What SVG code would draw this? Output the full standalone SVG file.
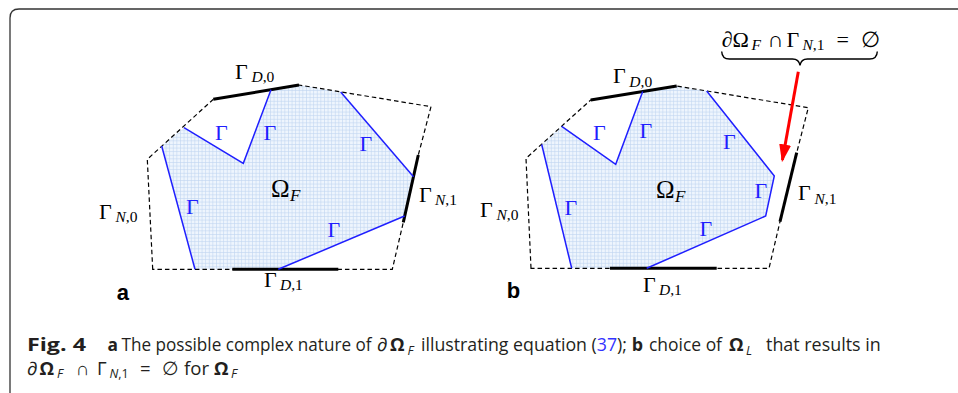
<svg xmlns="http://www.w3.org/2000/svg" width="958" height="393" viewBox="0 0 958 393">
<style>
.dash{fill:none;stroke:#000;stroke-width:1.2;stroke-dasharray:4.5,3}
.solid{fill:none;stroke:#000;stroke-width:3;stroke-linecap:butt}
.blue{fill:none;stroke:#1f1fff;stroke-width:1.5;stroke-linejoin:miter}
.fill{fill:url(#grid);stroke:none}
.m{font-family:"Liberation Serif","DejaVu Serif",serif;font-size:22px;fill:#000}
.mb{font-family:"Liberation Serif","DejaVu Serif",serif;font-size:22px;fill:#1f1fff}
.om{font-family:"Liberation Serif","DejaVu Serif",serif;font-size:25px;fill:#000}
.sub{font-size:15.5px}
.it{font-style:italic}
.pl{font-family:"Liberation Sans",Arial,sans-serif;font-weight:bold;font-size:22px;fill:#000}
.cap{font-family:"Open Sans","Noto Sans",sans-serif;font-size:18.5px;fill:#231f20}
.capb{font-weight:bold}
.cs{font-size:12.5px;font-style:italic;font-weight:normal}
</style>
<defs>
<pattern id="grid" patternUnits="userSpaceOnUse" width="3.6" height="3.6">
<rect width="3.6" height="3.6" fill="#eef5fd"/>
<path d="M0,0.3H3.6M0.3,0V3.6" stroke="#bfd5f0" stroke-width="0.7"/>
</pattern>
<marker id="ah" markerWidth="6" markerHeight="4" refX="5.2" refY="2" orient="auto" markerUnits="strokeWidth">
<path d="M0,0 L6,2 L0,4 Z" fill="#ff0000"/>
</marker>
</defs>
<rect width="958" height="393" fill="#fff"/>
<path d="M10,393 L10,18 Q10,9 19,9 L958,9" fill="none" stroke="#333" stroke-width="1.3"/>

<g id="panel-a">
<polygon class="fill" points="161.7,146 195,269.3 278.3,269.3 404.6,216 413.5,176.7 340.7,92 299,85 271,89.8 243.3,163.3 184,127.7"/>
<g id="connectors-a">
<polygon class="dash" points="152.7,269.3 147.3,159.3 213.3,99.3 299,85 431,106.7 418.3,155 403.3,222.3 392.3,269.3"/>
<line class="solid" x1="213.3" y1="99.3" x2="299" y2="85"/>
<line class="solid" x1="418.3" y1="155" x2="403.3" y2="222.3"/>
<line class="solid" x1="232.3" y1="269.3" x2="338.3" y2="269.3"/>
<polyline class="blue" points="161.7,146 195,269.3"/>
<polyline class="blue" points="184,127.7 243.3,163.3 271,89.8"/>
<polyline class="blue" points="340.7,92 413.5,176.7"/>
<polyline class="blue" points="404.6,216 278.3,269.3"/>
</g>
<g id="labels-a">
<text class="m" x="235" y="78.5">Γ<tspan class="sub it" x="251.5" dy="3.5">D</tspan><tspan class="sub">,0</tspan></text>
<text class="m" x="99" y="218.5">Γ<tspan class="sub it" x="115.5" dy="3.5">N</tspan><tspan class="sub">,0</tspan></text>
<text class="m" x="419" y="201.7">Γ<tspan class="sub it" x="435" dy="3.5">N</tspan><tspan class="sub">,1</tspan></text>
<text class="m" x="264" y="286.7">Γ<tspan class="sub it" x="280" dy="3.5">D</tspan><tspan class="sub">,1</tspan></text>
<text class="om" x="271" y="196.5">Ω<tspan class="it" font-size="17" x="290" dy="4">F</tspan></text>
<text class="mb" x="215" y="140">Γ</text>
<text class="mb" x="263.5" y="140">Γ</text>
<text class="mb" x="359.5" y="150.7">Γ</text>
<text class="mb" x="186" y="214">Γ</text>
<text class="mb" x="327.5" y="236.7">Γ</text>
<text class="pl" x="116.7" y="300">a</text>
</g>
</g>

<g id="panel-b">
<polygon class="fill" points="541.7,144.5 571.7,268.3 646.7,268.3 765.7,216 774.3,176 706.7,91 676.7,86 642.7,91.6 615.7,164.3 561.7,126.3"/>
<g id="connectors-b">
<polygon class="dash" points="531,268.3 526,158.3 590.7,100 676.7,86 808.3,107.7 796.7,152.7 780,221.7 769,268.3"/>
<line class="solid" x1="590.7" y1="100" x2="676.7" y2="86"/>
<line class="solid" x1="796.7" y1="152.7" x2="780" y2="221.7"/>
<line class="solid" x1="610" y1="268.3" x2="716.7" y2="268.3"/>
<polyline class="blue" points="541.7,144.5 571.7,268.3"/>
<polyline class="blue" points="561.7,126.3 615.7,164.3 642.7,91.6"/>
<polyline class="blue" points="706.7,91 774.3,176 765.7,216 646.7,268.3"/>
<path d="M721.7,51.5 Q722,59 729.5,59 L792.5,59 Q799,59 800,65.5 Q801,59 807.5,59 L869.5,59 Q877,59 877.3,51.5" fill="none" stroke="#000" stroke-width="1.4"/>
<line x1="798.3" y1="71.7" x2="782.4" y2="160" stroke="#ff0000" stroke-width="3" marker-end="url(#ah)"/>
</g>
<g id="labels-b">
<text class="m" x="613" y="83.3">Γ<tspan class="sub it" x="629.3" dy="3.5">D</tspan><tspan class="sub">,0</tspan></text>
<text class="m" x="480" y="216.7">Γ<tspan class="sub it" x="496.5" dy="3.5">N</tspan><tspan class="sub">,0</tspan></text>
<text class="m" x="798" y="200">Γ<tspan class="sub it" x="814.5" dy="3.5">N</tspan><tspan class="sub">,1</tspan></text>
<text class="m" x="643" y="291.7">Γ<tspan class="sub it" x="659" dy="3.5">D</tspan><tspan class="sub">,1</tspan></text>
<text class="om" x="656" y="198.3">Ω<tspan class="it" font-size="17" x="675" dy="4">F</tspan></text>
<text class="mb" x="593" y="140">Γ</text>
<text class="mb" x="639.5" y="138.3">Γ</text>
<text class="mb" x="723" y="149.3">Γ</text>
<text class="mb" x="754.5" y="198.3">Γ</text>
<text class="mb" x="564.5" y="215">Γ</text>
<text class="mb" x="699.5" y="236">Γ</text>
<text class="m" x="721.7" y="46.7">∂<tspan x="732.5">Ω</tspan><tspan class="sub it" x="751.5" dy="3.5">F</tspan><tspan x="767.5" dy="-3.5">∩</tspan><tspan x="786.5">Γ</tspan><tspan class="sub it" x="802.5" dy="3.5">N</tspan><tspan class="sub">,1</tspan><tspan x="836.5" dy="-3.5">=</tspan><tspan x="861">∅</tspan></text>
<text class="pl" x="506.7" y="298">b</text>
</g>
</g>

<g id="caption" class="cap">
<text x="27" y="351" class="capb" textLength="59" lengthAdjust="spacingAndGlyphs">Fig. 4</text>
<text x="107.5" y="351" class="capb" textLength="10.5" lengthAdjust="spacingAndGlyphs">a</text>
<text x="121.5" y="351" textLength="250" lengthAdjust="spacingAndGlyphs">The possible complex nature of</text>
<text x="377" y="351">∂<tspan class="capb" x="390">Ω</tspan><tspan class="cs" x="407.5" dy="3.5">F</tspan></text>
<text x="421" y="351" textLength="206" lengthAdjust="spacingAndGlyphs">illustrating equation (<tspan fill="#3333ff">37</tspan>);</text>
<text x="631.7" y="351" class="capb" textLength="11.3" lengthAdjust="spacingAndGlyphs">b</text>
<text x="649" y="351" textLength="73" lengthAdjust="spacingAndGlyphs">choice of</text>
<text x="729" y="351" class="capb">Ω<tspan class="cs" x="746" dy="3.5">L</tspan></text>
<text x="766" y="351" textLength="114.7" lengthAdjust="spacingAndGlyphs">that results in</text>
<text x="27" y="374.5">∂<tspan class="capb" x="39.5">Ω</tspan><tspan class="cs" x="57" dy="3.5">F</tspan></text>
<text x="76" y="374.5">∩</text>
<text x="97" y="374.5">Γ<tspan x="109.5" dy="3.5" font-size="12.5px" font-style="italic">N</tspan><tspan font-size="12.5px">,1</tspan></text>
<text x="140" y="374.5">=</text>
<text x="162" y="374.5">∅</text>
<text x="184" y="374.5" textLength="25" lengthAdjust="spacingAndGlyphs">for</text>
<text x="214" y="374.5" class="capb">Ω<tspan class="cs" x="231" dy="3.5">F</tspan></text>
</g>
</svg>
